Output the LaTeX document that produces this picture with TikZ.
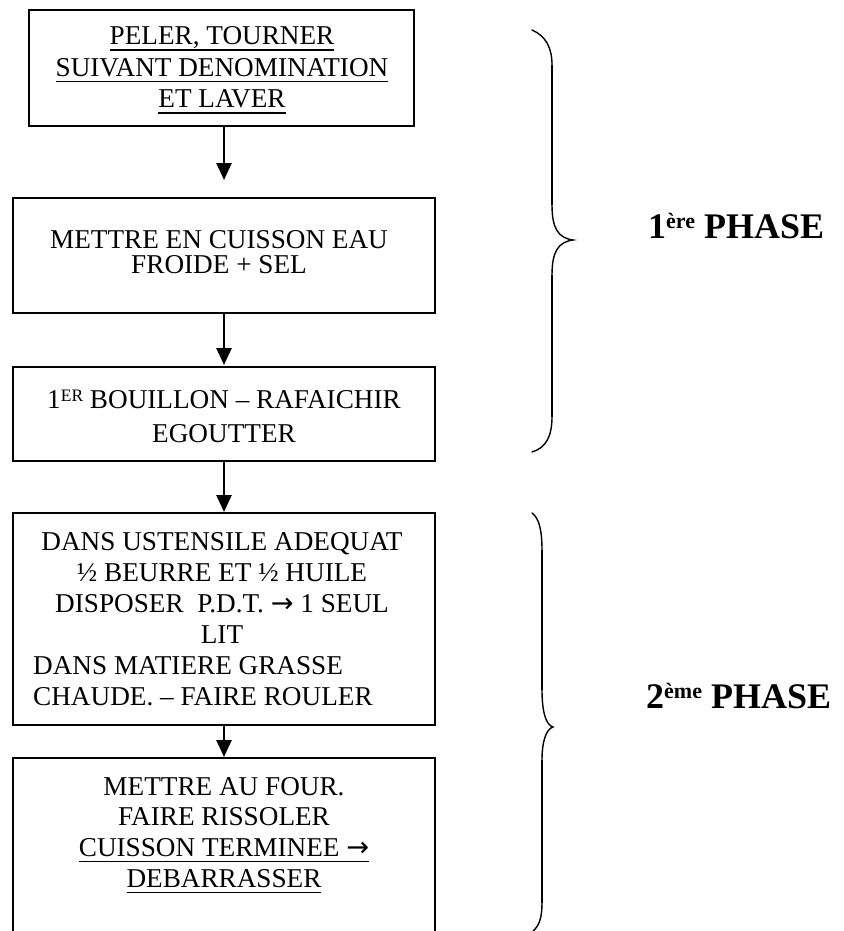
\documentclass[tikz,border=0pt]{standalone}
\usepackage{fontspec}
\setmainfont{Liberation Serif}
\newfontfamily\arrowfont{DejaVu Sans}
\usetikzlibrary{arrows.meta}

% underline drawn as a thick rule a little below the baseline
\newcommand{\ulinetext}[1]{\setbox0=\hbox{#1}\rlap{\rule[-6pt]{\wd0}{1.6pt}}\box0}
% right arrow used inside the step texts
\newcommand{\textto}{{\arrowfont →}}

\tikzset{
  stepframe/.style={draw, line width=1.8pt, inner sep=0pt, outer sep=0pt, anchor=north},
  steptext/.style={inner sep=0pt, anchor=base},
  flow/.style={line width=2.6pt, -{Triangle[length=17pt,width=15pt]}},
  bracepath/.style={line width=1.4pt, line cap=round},
  bracestem/.style={line width=2.2pt},
  phaselabel/.style={inner sep=0pt, anchor=base west, font=\fontsize{36}{36}\selectfont\bfseries}
}

\begin{document}
\begin{tikzpicture}[x=1pt, y=-1pt]
  \useasboundingbox (0,0) rectangle (843,931);
  \fill[white] (0,0) rectangle (843,931);
  \clip (0,0) rectangle (843,931);

  % frames of the steps
  \node[stepframe, minimum width=385pt, minimum height=116pt] (b1) at (221.5,10) {};
  \node[stepframe, minimum width=422pt, minimum height=115pt] (b2) at (224,198) {};
  \node[stepframe, minimum width=422pt, minimum height=94pt]  (b3) at (224,367) {};
  \node[stepframe, minimum width=422pt, minimum height=212pt] (b4) at (224,513) {};
  \node[stepframe, minimum width=422pt, minimum height=220pt] (b5) at (224,758) {};

  % texts of the steps
  \node[steptext] (t1) at (222,45) {\fontsize{27.2}{31.5}\selectfont
    \begin{tabular}[t]{@{}c@{}}
      \ulinetext{PELER, TOURNER}\\
      \ulinetext{SUIVANT DENOMINATION}\\
      \ulinetext{ET LAVER}
    \end{tabular}};

  \node[steptext] (t2) at (219,248) {\fontsize{27.2}{25}\selectfont
    \begin{tabular}[t]{@{}c@{}}
      METTRE EN CUISSON EAU\\
      FROIDE + SEL
    \end{tabular}};

  \node[steptext] (t3) at (224,408) {\fontsize{27.2}{34}\selectfont
    \begin{tabular}[t]{@{}c@{}}
      1\raisebox{7pt}{\fontsize{17.5}{17.5}\selectfont ER} BOUILLON – RAFAICHIR\\
      EGOUTTER
    \end{tabular}};

  \node[steptext] (t4a) at (222,550) {\fontsize{27.2}{31}\selectfont
    \begin{tabular}[t]{@{}c@{}}
      DANS USTENSILE ADEQUAT\\
      ½ BEURRE ET ½ HUILE\\
      DISPOSER\ \ P.D.T. \textto\ 1 SEUL\\
      LIT
    \end{tabular}};

  \node[steptext, anchor=base west] (t4b) at (33,674) {\fontsize{27.2}{31}\selectfont
    \begin{tabular}[t]{@{}l@{}}
      DANS MATIERE GRASSE\\
      CHAUDE. – FAIRE\ ROULER
    \end{tabular}};

  \node[steptext] (t5) at (224,795) {\fontsize{27.2}{30.7}\selectfont
    \begin{tabular}[t]{@{}c@{}}
      METTRE AU FOUR.\\
      FAIRE RISSOLER\\
      \ulinetext{CUISSON TERMINEE \textto}\\
      \ulinetext{DEBARRASSER}
    \end{tabular}};

  % arrows between the steps
  \draw[flow, shorten >=18pt] (b2.north |- b1.south) -- (b2.north);
  \draw[flow, shorten >=2pt]  (b2.south) -- (b3.north);
  \draw[flow, shorten >=1pt]  (b3.south) -- (b4.north);
  \draw[flow, shorten >=1pt]  (b4.south) -- (b5.north);

  % brace of the first phase
  \draw[bracepath] (532,30) .. controls (546,36) and (552,48) .. (552,65)
    -- (552,205) .. controls (552,228) and (558,238) .. (573,240)
    .. controls (558,242) and (552,252) .. (552,275)
    -- (552,417) .. controls (552,436) and (546,448) .. (532,452);
  \draw[bracestem] (552,65) -- (552,205) (552,275) -- (552,417);

  % brace of the second phase
  \draw[bracepath] (532,513) .. controls (539,518) and (542,530) .. (542,550)
    -- (542,690) .. controls (542,712) and (546,725) .. (553,727)
    .. controls (546,729) and (542,742) .. (542,760)
    -- (542,903) .. controls (542,918) and (539,926) .. (533,931);
  \draw[bracestem] (542,550) -- (542,690) (542,760) -- (542,903);

  % phase labels
  \node[phaselabel] (p1) at (648,238) {1\raisebox{10pt}{\fontsize{22}{22}\selectfont ère} PHASE};
  \node[phaselabel] (p2) at (646,708) {2\raisebox{10pt}{\fontsize{22}{22}\selectfont ème} PHASE};
\end{tikzpicture}
\end{document}
